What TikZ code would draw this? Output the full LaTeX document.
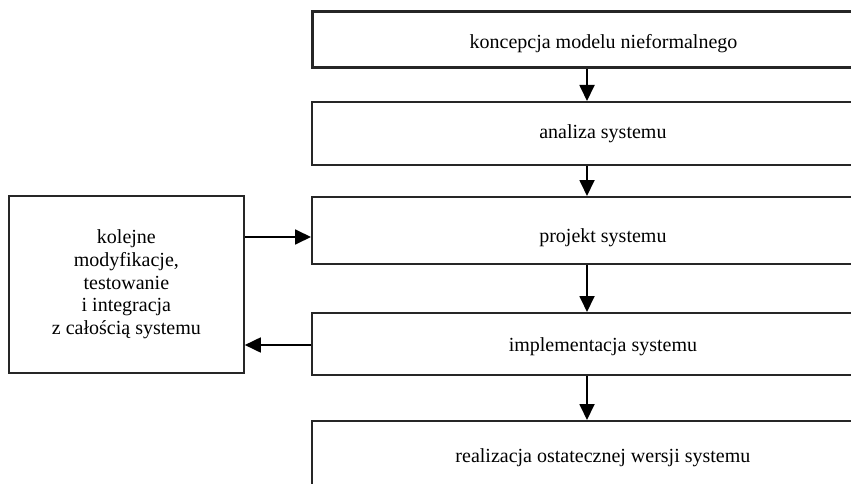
\documentclass[tikz,border=0pt]{standalone}
\usepackage{fontspec}
\setmainfont{Liberation Serif}
\usetikzlibrary{arrows.meta}
\begin{document}
\begin{tikzpicture}[x=1pt,y=-1pt,
  stage/.style={draw=black!85,line width=1.8pt,minimum width=582pt,anchor=north west,inner sep=0pt,text height=14pt,text depth=4pt},
  sidebox/.style={draw=black!85,line width=1.8pt,minimum width=235pt,minimum height=177pt,anchor=north west,align=center,inner sep=0pt},
  flow/.style={line width=1.8pt,-{Triangle[length=16pt,width=15pt]}},
  txt/.style={font=\fontsize{20}{22.6}\selectfont}]
\useasboundingbox (0,0) rectangle (851,484);
\clip (0,0) rectangle (851,484);
\node[stage,line width=3pt,minimum height=56pt,txt,text height=22pt] (s1) at (311,10) {koncepcja modelu nieformalnego};
\node[stage,minimum height=63pt,txt] (s2) at (311,101) {analiza systemu};
\node[stage,minimum height=67pt,txt,text height=29pt] (s3) at (311,196) {projekt systemu};
\node[stage,minimum height=62pt,txt,text height=20pt] (s4) at (311,312) {implementacja systemu};
\node[stage,minimum height=74pt,txt] (s5) at (311,420) {realizacja ostatecznej wersji systemu};
\node[sidebox,txt] (side) at (8,195) {kolejne\\modyfikacje,\\testowanie\\i integracja\\z całością systemu};
\draw[flow] (s1.south -| 587,0) -- (s2.north -| 587,0);
\draw[flow] (s2.south -| 587,0) -- (s3.north -| 587,0);
\draw[flow] (s3.south -| 587,0) -- (s4.north -| 587,0);
\draw[flow] (s4.south -| 587,0) -- (s5.north -| 587,0);
\draw[flow] (side.east |- 0,237) -- (s3.west |- 0,237);
\draw[flow] (s4.west |- 0,345) -- (side.east |- 0,345);
\end{tikzpicture}
\end{document}
